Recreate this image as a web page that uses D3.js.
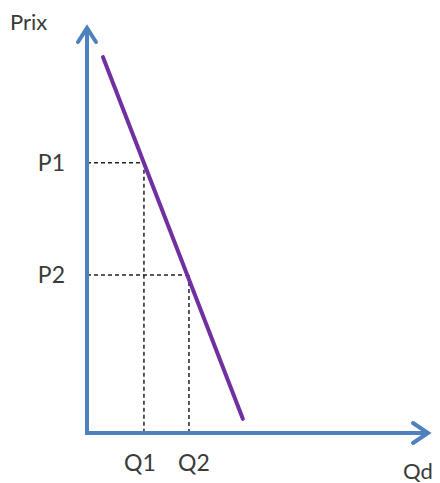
<!DOCTYPE html>
<html>
<head>
<meta charset="utf-8">
<script src="https://cdn.jsdelivr.net/npm/d3@7"></script>
<style>
  html, body { margin: 0; padding: 0; background: #fff; }
  svg { display: block; }
  text { font-family: "Lato", "Open Sans", sans-serif; fill: #3a3a3a; }
</style>
</head>
<body>
<div id="chart"></div>
<script>
// ---- data ----
const demandQ = [0.47, 4.57];
const demandP = [9.28, 0.35];
const priceLabels = ["P1", "P2"];
const priceValues = [6.67, 3.90];
const quantityLabels = ["Q1", "Q2"];
const quantityValues = [1.67, 2.99];
const axisLabels = ["Prix", "Qd"];

const W = 440, H = 483;
const svg = d3.select("#chart").append("svg").attr("width", W).attr("height", H);

const x = d3.scaleLinear().domain([0, 10]).range([87, 428]);
const y = d3.scaleLinear().domain([0, 10]).range([433, 28]);

const axisColor = "#4f81bd";

// dashed guide lines
priceValues.forEach((p, i) => {
  const q = quantityValues[i];
  svg.append("line")
    .attr("x1", x(0)).attr("x2", x(q))
    .attr("y1", y(p)).attr("y2", y(p))
    .attr("stroke", "#222").attr("stroke-width", 1.5)
    .attr("stroke-dasharray", "4,3");
  svg.append("line")
    .attr("x1", x(q)).attr("x2", x(q))
    .attr("y1", y(p)).attr("y2", y(0))
    .attr("stroke", "#222").attr("stroke-width", 1.5)
    .attr("stroke-dasharray", "4,3");
});

// axes
svg.append("line")
  .attr("x1", x(0)).attr("x2", x(0))
  .attr("y1", y(0) + 2).attr("y2", y(10))
  .attr("stroke", axisColor).attr("stroke-width", 4);
svg.append("line")
  .attr("x1", x(0) - 2).attr("x2", x(10))
  .attr("y1", y(0)).attr("y2", y(0))
  .attr("stroke", axisColor).attr("stroke-width", 4);

// arrowheads
svg.append("path")
  .attr("d", d3.line()([[x(0) - 9, y(10) + 14], [x(0), y(10)], [x(0) + 9, y(10) + 14]]))
  .attr("fill", "none").attr("stroke", axisColor).attr("stroke-width", 4)
  .attr("stroke-linecap", "round").attr("stroke-linejoin", "miter");
svg.append("path")
  .attr("d", d3.line()([[x(10) - 15, y(0) - 10], [x(10), y(0)], [x(10) - 15, y(0) + 10]]))
  .attr("fill", "none").attr("stroke", axisColor).attr("stroke-width", 4)
  .attr("stroke-linecap", "round").attr("stroke-linejoin", "miter");

// demand line
svg.append("path")
  .attr("d", d3.line().x(d => x(d[0])).y(d => y(d[1]))(d3.zip(demandQ, demandP)))
  .attr("fill", "none").attr("stroke", "#7030a0").attr("stroke-width", 4)
  .attr("stroke-linecap", "round");

// labels
svg.selectAll("text.p").data(priceLabels).enter().append("text")
  .attr("x", 65).attr("y", (d, i) => y(priceValues[i]) + 8)
  .attr("text-anchor", "end").attr("font-size", 23).text(d => d);

svg.selectAll("text.q").data(quantityLabels).enter().append("text")
  .attr("x", (d, i) => x(quantityValues[i]) + (i === 0 ? -4 : 5))
  .attr("y", 471)
  .attr("text-anchor", "middle").attr("font-size", 23).text(d => d);

svg.append("text").attr("x", 10).attr("y", 30).attr("font-size", 22).text(axisLabels[0]);
svg.append("text").attr("x", 403).attr("y", 479).attr("font-size", 22).text(axisLabels[1]);
</script>
</body>
</html>
